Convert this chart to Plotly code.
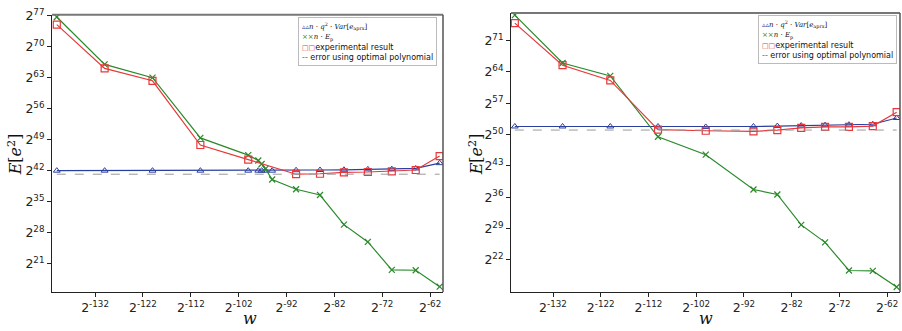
import plotly.graph_objects as go

# ---- data (log2 values) ----
x_main = [-140, -130, -120, -110, -100, -90, -85, -80, -75, -70, -65, -60]
x_left_dense = [-140, -130, -120, -110, -100, -97.9, -97.2, -96.4, -95, -90, -85, -80, -75, -70, -65, -60]

left_var = [42.0, 42.0, 42.0, 42.0, 42.0, 42.0, 42.0, 42.0, 42.0, 42.1, 42.15, 42.2, 42.3, 42.35, 42.5, 43.7]
left_ep = [76.7, 66.0, 63.0, 49.4, 45.5, 44.3, 43.5, 42.4, 40.0, 37.8, 36.5, 29.8, 25.9, 19.6, 19.5, 15.8]
left_exp = [75.0, 65.1, 62.3, 47.8, 44.5, 41.2, 41.3, 41.6, 41.7, 41.85, 42.15, 45.3]
left_opt = 41.2

right_var = [51.8, 51.8, 51.8, 51.8, 51.7, 51.8, 51.9, 52.0, 52.1, 52.2, 52.3, 53.7]
right_ep = [76.7, 66.0, 63.1, 49.5, 45.5, 37.7, 36.6, 29.8, 25.9, 19.6, 19.5, 15.9]
right_exp = [74.9, 65.5, 62.1, 51.1, 50.85, 50.7, 51.0, 51.5, 51.7, 51.7, 51.9, 55.0]
right_opt = 51.0

x_ticks = [-132, -122, -112, -102, -92, -82, -72, -62]
left_y_ticks = [21, 28, 35, 42, 49, 56, 63, 70, 77]
right_y_ticks = [22, 29, 36, 43, 50, 57, 64, 71]

series_names = ["<i>n</i> · <i>q</i><sup>2</sup> · <i>Var</i>[<i>e</i><sub>aprx</sub>]",
                "<i>n</i> · <i>E</i><sub>p</sub>",
                "experimental result",
                "error using optimal polynomial"]

BLUE = "#2b3f9e"
GREEN = "#2a8a2a"
RED = "#e8383b"
GRAY = "#999999"

fig = go.Figure()


def add_panel(xa, ya, xv, var, xe, ep, exp, opt):
    fig.add_trace(go.Scatter(x=xv, y=var, mode="lines+markers", name=series_names[0],
                             line=dict(color=BLUE, width=1.2),
                             marker=dict(symbol="triangle-up-open", size=6, color=BLUE, line=dict(width=1)),
                             xaxis=xa, yaxis=ya, showlegend=False))
    fig.add_trace(go.Scatter(x=xv, y=ep, mode="lines+markers", name=series_names[1],
                             line=dict(color=GREEN, width=1.2),
                             marker=dict(symbol="x-thin-open", size=6, color=GREEN, line=dict(width=1.2, color=GREEN)),
                             xaxis=xa, yaxis=ya, showlegend=False))
    fig.add_trace(go.Scatter(x=xe, y=exp, mode="lines+markers", name=series_names[2],
                             line=dict(color=RED, width=1.2),
                             marker=dict(symbol="square-open", size=7, color=RED, line=dict(width=1.2)),
                             xaxis=xa, yaxis=ya, showlegend=False))
    fig.add_trace(go.Scatter(x=[xe[0], xe[-1]], y=[opt, opt], mode="lines",
                             name=series_names[3],
                             line=dict(color=GRAY, width=1, dash="dash"),
                             xaxis=xa, yaxis=ya, showlegend=False))


add_panel("x", "y", x_left_dense, left_var, x_main, left_ep, left_exp, left_opt)
add_panel("x2", "y2", x_main, right_var, x_main, right_ep, right_exp, right_opt)

tickfont = dict(family="DejaVu Sans", size=12.5, color="#222")
x_ticktext = ["2<sup>%d</sup>" % v for v in x_ticks]

axis_common = dict(showgrid=False, zeroline=False, ticks="outside", ticklen=4, tickwidth=1,
                   tickcolor="#222", showline=True, linecolor="#222", linewidth=1,
                   tickfont=tickfont, ticklabeloverflow="allow")

fig.update_layout(
    width=902, height=331,
    margin=dict(l=0, r=0, t=0, b=0),
    paper_bgcolor="white", plot_bgcolor="white",
    showlegend=False,
    xaxis=dict(domain=[52 / 902, 443 / 902], range=[-141.0, -59.3], tickvals=x_ticks,
               ticktext=x_ticktext, anchor="y", **axis_common),
    yaxis=dict(domain=[1 - 291 / 331, 1 - 7 / 331], range=[14.6, 77.2], tickvals=left_y_ticks,
               ticktext=["2<sup>%d</sup>" % v for v in left_y_ticks], anchor="x", **axis_common),
    xaxis2=dict(domain=[511 / 902, 900 / 902], range=[-140.8, -59.3], tickvals=x_ticks,
                ticktext=x_ticktext, anchor="y2", **axis_common),
    yaxis2=dict(domain=[1 - 291 / 331, 1 - 5 / 331], range=[14.8, 77.2], tickvals=right_y_ticks,
                ticktext=["2<sup>%d</sup>" % v for v in right_y_ticks], anchor="x2", **axis_common),
)

# top / right frame lines
for x0, x1, y0, y1 in [(52, 443, 7, 291), (511, 900, 5, 291)]:
    fig.add_shape(type="line", xref="paper", yref="paper", x0=x0 / 902, x1=x1 / 902,
                  y0=1 - y0 / 331, y1=1 - y0 / 331, line=dict(color="#777", width=2))
    fig.add_shape(type="line", xref="paper", yref="paper", x0=x1 / 902, x1=x1 / 902,
                  y0=1 - y0 / 331, y1=1 - y1 / 331, line=dict(color="#555", width=1.5))

# compact legend boxes (matplotlib style)
serif = "font-family:'DejaVu Serif';font-size:7px"
legend_lines = [
    '<span style="color:%s;font-size:7px">▵▵</span><span style="%s">%s</span>' % (BLUE, serif, series_names[0]),
    '<span style="color:%s;font-size:7px">××</span><span style="%s">%s</span>' % (GREEN, serif, series_names[1]),
    '<span style="color:%s;font-size:7px">□□</span>%s' % (RED, series_names[2]),
    '<span style="color:%s">--</span> %s' % ("#666", series_names[3]),
]
legend_text = "<br>".join(legend_lines)
for xr, yt in [(437, 9), (897, 7)]:
    fig.add_annotation(text=legend_text, x=xr / 902, y=1 - yt / 331, xref="paper", yref="paper",
                       xanchor="right", yanchor="top", align="left", showarrow=False,
                       font=dict(family="DejaVu Sans", size=8, color="#111"),
                       bgcolor="white", bordercolor="#bbbbbb", borderwidth=1, borderpad=3)

title_font = dict(family="DejaVu Serif", size=16, color="#111")
for xc, yc in [(15, 150), (476, 150)]:
    fig.add_annotation(text="<i>E</i>[<i>e</i><sup>2</sup>]", x=xc / 902, y=1 - yc / 331,
                       xref="paper", yref="paper", textangle=-90, showarrow=False,
                       font=title_font, xanchor="center", yanchor="middle")
for xc in [250, 706]:
    fig.add_annotation(text="<i>w</i>", x=xc / 902, y=1 - 318 / 331, xref="paper", yref="paper",
                       showarrow=False, font=title_font, xanchor="center", yanchor="middle")

fig.write_html("out.html", config={"displayModeBar": False},
               post_script="document.body.style.margin='0px';")
